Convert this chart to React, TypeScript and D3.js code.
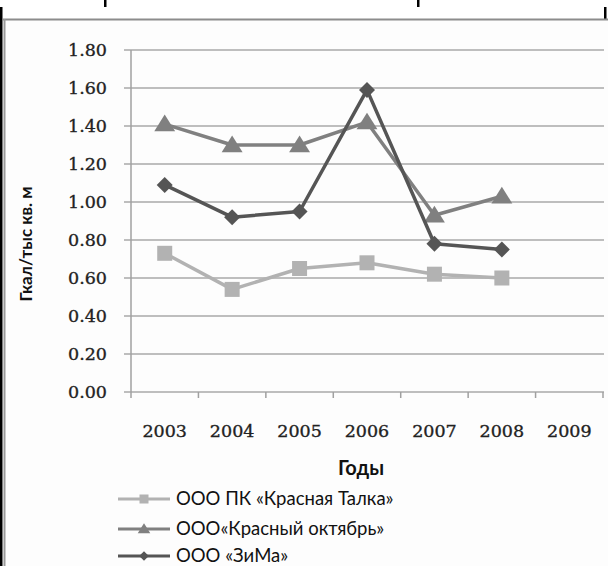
import React from "react";
import * as d3 from "d3";

const years = ["2003", "2004", "2005", "2006", "2007", "2008", "2009"];
const yTicks = [0, 0.2, 0.4, 0.6, 0.8, 1.0, 1.2, 1.4, 1.6, 1.8];

const seriesNames = ["ООО ПК «Красная Талка»", "ООО«Красный октябрь»", "ООО «ЗиМа»"];
const talkaValues = [0.73, 0.54, 0.65, 0.68, 0.62, 0.6];
const oktyabrValues = [1.41, 1.3, 1.3, 1.42, 0.93, 1.03];
const zimaValues = [1.09, 0.92, 0.95, 1.59, 0.78, 0.75];

const seriesColors = ["#b2b2b2", "#808080", "#555555"];
const seriesMarkers = ["square", "triangle", "diamond"];

const W = 608;
const H = 566;
const plot = { left: 131, right: 603, top: 50, bottom: 392 };

const x = d3.scaleBand<string>().domain(years).range([plot.left, plot.right]).padding(0);
const y = d3.scaleLinear().domain([0, 1.8]).range([plot.bottom, plot.top]);

function Marker({ kind, cx, cy, color, s = 1 }: { kind: string; cx: number; cy: number; color: string; s?: number }) {
  if (kind === "square") {
    const h = 7.5 * s;
    return <rect x={cx - h} y={cy - h} width={2 * h} height={2 * h} fill={color} />;
  }
  if (kind === "triangle") {
    const h = 9.5 * s;
    return (
      <path
        d={`M${cx},${cy - h}L${cx + h * 1.1},${cy + h * 0.75}L${cx - h * 1.1},${cy + h * 0.75}Z`}
        fill={color}
      />
    );
  }
  const h = 8 * s;
  return <path d={`M${cx},${cy - h}L${cx + h},${cy}L${cx},${cy + h}L${cx - h},${cy}Z`} fill={color} />;
}

export default function App() {
  const data = [talkaValues, oktyabrValues, zimaValues];
  const line = d3
    .line<number>()
    .x((_, i) => (x(years[i]) as number) + x.bandwidth() / 2)
    .y((v) => y(v));
  const serif = "'DejaVu Serif', serif";
  const sans = "Lato, 'Open Sans', sans-serif";
  const boundaries = d3.range(years.length + 1).map((i) => plot.left + i * x.step());

  return (
    <svg width={W} height={H} style={{ position: "absolute", left: 0, top: 0, background: "#fff" }}>
      {/* page frame */}
      <rect x={0} y={7} width={2.5} height={H - 7} fill="#000" />
      <rect x={104} y={0} width={2.5} height={7} fill="#000" />
      <rect x={417} y={0} width={2.5} height={7} fill="#000" />
      <rect x={604} y={7} width={2.5} height={12} fill="#000" />
      <rect x={4} y={19} width={W - 4} height={H - 19} fill="#fdfdfd" />
      <line x1={3} x2={W} y1={19.5} y2={19.5} stroke="#8c8c8c" strokeWidth={2} />
      <line x1={4.5} x2={4.5} y1={19} y2={H} stroke="#9a9a9a" strokeWidth={2} />

      {/* gridlines and y ticks */}
      {yTicks.map((t) => (
        <g key={t}>
          <line x1={124} x2={plot.right + 1} y1={y(t)} y2={y(t)} stroke="#a8a8a8" strokeWidth={1.5} />
          <text
            x={107}
            y={y(t)}
            dy="0.36em"
            textAnchor="end"
            fontFamily={serif}
            fontSize={17.5}
            fill="#222"
            stroke="#222"
            strokeWidth={0.35}
          >
            {t.toFixed(2)}
          </text>
        </g>
      ))}
      <line x1={plot.left} x2={plot.left} y1={plot.top} y2={plot.bottom} stroke="#a0a0a0" strokeWidth={1.5} />

      {/* x axis category boundaries */}
      {boundaries.map((b, i) => (
        <line key={i} x1={b} x2={b} y1={plot.bottom} y2={plot.bottom + 6} stroke="#a0a0a0" strokeWidth={1.5} />
      ))}
      {years.map((yr) => (
        <text
          key={yr}
          x={(x(yr) as number) + x.bandwidth() / 2}
          y={431}
          dy="0.36em"
          textAnchor="middle"
          fontFamily={serif}
          fontSize={17.5}
          fill="#222"
          stroke="#222"
          strokeWidth={0.35}
        >
          {yr}
        </text>
      ))}

      {/* axis titles */}
      <text x={361} y={468} dy="0.35em" textAnchor="middle" fontFamily={sans} fontWeight={700} fontSize={20} fill="#111">
        Годы
      </text>
      <text
        transform="translate(26,244) rotate(-90)"
        textAnchor="middle"
        dy="0.35em"
        fontFamily={sans}
        fontWeight={700}
        fontSize={17}
        fill="#111"
      >
        Гкал/тыс кв. м
      </text>

      {/* series */}
      {data.map((vals, si) => (
        <g key={si}>
          <path d={line(vals) || ""} fill="none" stroke={seriesColors[si]} strokeWidth={3.5} strokeLinejoin="round" />
          {vals.map((v, i) => (
            <Marker
              key={i}
              kind={seriesMarkers[si]}
              cx={(x(years[i]) as number) + x.bandwidth() / 2}
              cy={y(v)}
              color={seriesColors[si]}
            />
          ))}
        </g>
      ))}

      {/* legend */}
      {seriesNames.map((name, i) => {
        const ly = [499, 529, 556][i];
        return (
          <g key={name}>
            <line x1={118} x2={170} y1={ly} y2={ly} stroke={seriesColors[i]} strokeWidth={3} />
            <Marker kind={seriesMarkers[i]} cx={144} cy={ly} color={seriesColors[i]} s={0.6} />
            <text x={176} y={ly} dy="0.35em" fontFamily={sans} fontSize={18.5} fill="#111">
              {name}
            </text>
          </g>
        );
      })}
    </svg>
  );
}
